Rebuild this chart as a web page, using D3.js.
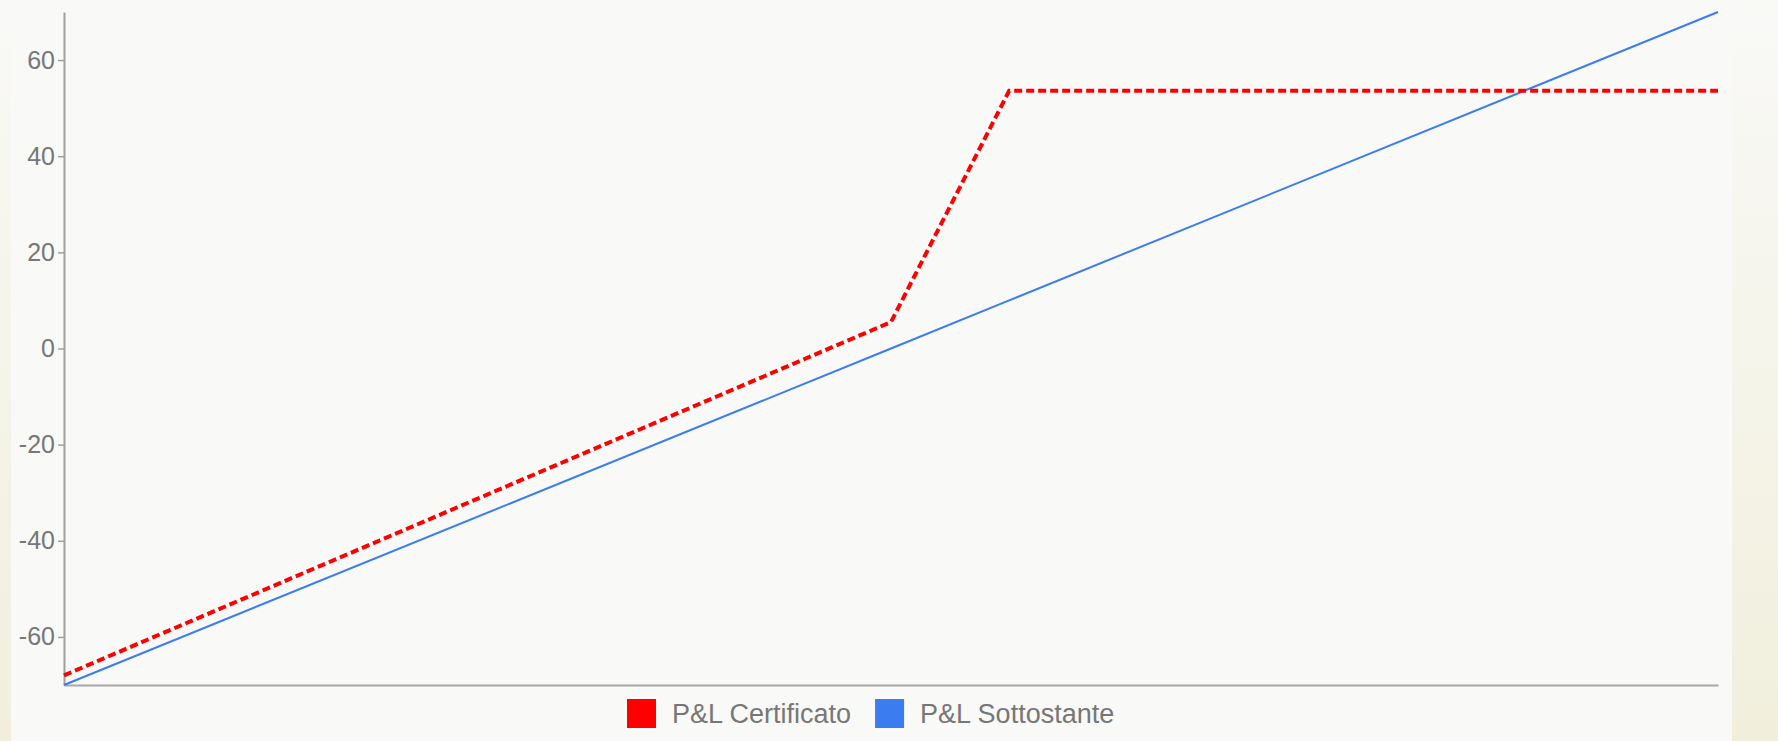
<!DOCTYPE html>
<html>
<head>
<meta charset="utf-8">
<script src="https://cdn.jsdelivr.net/npm/d3@7"></script>
<style>
  html, body { margin: 0; padding: 0; }
  body { width: 1778px; height: 741px; overflow: hidden; background: #f3f2e4; }
  svg { display: block; }
</style>
</head>
<body>
<svg id="chart" width="1778" height="741"></svg>
<script>
// payoff values
const underlying = [-70, 0, 10, 70];
const certificato = [-68, 5.5, 53.6, 53.6];
const sottostante = [-70, 0, 10, 70];
const yTicks = [-60, -40, -20, 0, 20, 40, 60];
const seriesNames = ["P&L Certificato", "P&L Sottostante"];
const seriesColors = ["#ff0000", "#3b7cf0"];

const svg = d3.select("#chart");

const width = 1778;
const height = 741;
const margin = { top: 12, right: 60, bottom: 56, left: 64 };

// page background: plain panel with a beige strip left and right
const defs = svg.append("defs");
const grad = defs.append("linearGradient").attr("id", "strip")
  .attr("x1", 0).attr("y1", 0).attr("x2", 0).attr("y2", 1);
grad.append("stop").attr("offset", "0%").attr("stop-color", "#f9f9f7");
grad.append("stop").attr("offset", "100%").attr("stop-color", "#f1efdc");

svg.append("rect")
  .attr("x", 0).attr("y", 0)
  .attr("width", width).attr("height", height)
  .attr("fill", "url(#strip)");

svg.append("rect")
  .attr("x", 11).attr("y", 0)
  .attr("width", 1732 - 11).attr("height", height)
  .attr("fill", "#f9f9f8");

const x = d3.scaleLinear().domain([-70, 70]).range([margin.left, 1718]);
const y = d3.scaleLinear().domain([-70, 70]).range([height - margin.bottom, margin.top]);

// y axis (plain hyphen for negatives, like the original)
const yAxis = svg.append("g")
  .attr("transform", "translate(" + margin.left + ",0)")
  .call(d3.axisLeft(y).tickValues(yTicks).tickFormat(d => String(d))
    .tickSize(6).tickSizeOuter(0).tickPadding(3));

yAxis.select(".domain").attr("stroke", "#a0a0a0").attr("stroke-width", 2);
yAxis.selectAll(".tick line").attr("stroke", "#a0a0a0").attr("stroke-width", 1.5);
yAxis.selectAll(".tick text")
  .attr("font-family", "Liberation Sans, Arial, sans-serif")
  .attr("font-size", "25px")
  .attr("fill", "#777");

// x axis, line only
const xAxis = svg.append("g")
  .attr("transform", "translate(0," + (height - margin.bottom) + ")")
  .call(d3.axisBottom(x).tickValues([]).tickSizeOuter(0));

xAxis.select(".domain").attr("stroke", "#a8a8a8").attr("stroke-width", 2);

const line = d3.line()
  .x(d => x(d[0]))
  .y(d => y(d[1]));

// underlying
svg.append("path")
  .datum(d3.zip(underlying, sottostante))
  .attr("fill", "none")
  .attr("stroke", seriesColors[1])
  .attr("stroke-width", 2)
  .attr("d", line);

// certificate
svg.append("path")
  .datum(d3.zip(underlying, certificato))
  .attr("fill", "none")
  .attr("stroke", seriesColors[0])
  .attr("stroke-width", 4)
  .attr("stroke-dasharray", "8,4")
  .attr("d", line);

// legend
const legend = svg.append("g").attr("transform", "translate(627,699)");
let lx = 0;
seriesNames.forEach((name, i) => {
  const item = legend.append("g").attr("transform", "translate(" + lx + ",0)");
  item.append("rect")
    .attr("width", 29).attr("height", 29)
    .attr("fill", seriesColors[i]);
  const t = item.append("text")
    .attr("x", 45).attr("y", 24)
    .attr("font-family", "Liberation Sans, Arial, sans-serif")
    .attr("font-size", "27px")
    .attr("fill", "#777")
    .text(name);
  lx += 45 + t.node().getComputedTextLength() + 24;
});
</script>
</body>
</html>
